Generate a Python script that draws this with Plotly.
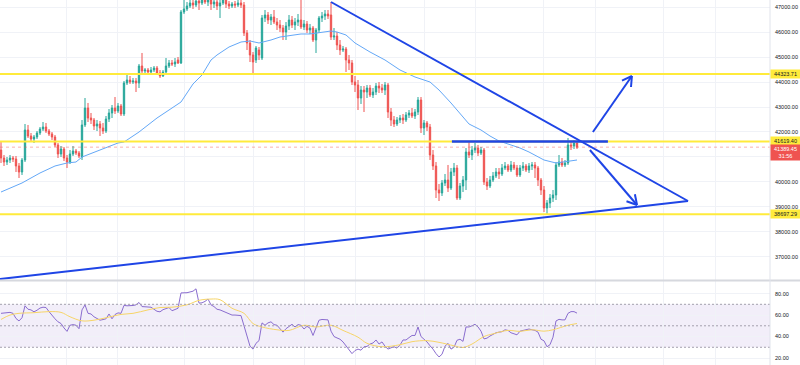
import plotly.graph_objects as go

# ---------------- data ----------------
open_ = [41276,40955,40795,40875,40955,40915,40635,40394,40875,42078,
 41837,41717,41797,41958,42118,42198,42038,41918,41797,41477,
 41116,41316,40955,40795,41116,41236,41156,40995,42279,42960,
 42559,42479,42238,42319,42158,42038,42519,42760,42960,42840,
 43040,42720,43963,44083,44003,44043,43963,44644,44444,44484,
 44404,44484,44564,44364,44243,44404,44644,44765,44725,44885,
 44765,46810,46930,47051,47171,47091,47251,47171,47371,47211,
 47291,47131,47211,47051,47171,47331,47131,47051,47131,47091,
 47171,47091,45968,45567,45086,44885,45286,44965,46569,46690,
 46489,46609,46409,46289,46168,46008,46248,46489,46289,46409,
 46489,46208,46329,46088,46168,45687,46088,46569,46649,46730,
 46690,45807,45847,45487,45286,45326,44885,44765,44003,43883,
 43361,43682,43602,43762,43482,43602,43842,43762,43682,43883,
 42800,42479,42319,42479,42559,42479,42680,42760,42639,42800,
 43281,42158,42359,42198,41076,40635,39672,39552,39953,40073,
 39752,40394,40554,39351,39832,40073,41196,41076,41276,41356,
 41156,41276,39993,39832,40073,40233,40394,40314,40554,40635,
 40474,40675,40554,40274,40554,40635,40474,40635,40675,40554,
 40073,39672,38950,39151,39351,39472,40675,40795,40675,40755,
 41477,41436,41557]

high = [41597,41076,40995,41076,41035,41035,40755,40955,42319,42279,
 41958,41878,42038,42198,42399,42359,42118,41998,41878,41557,
 41436,41396,41076,41276,41436,41316,41236,42479,43361,43161,
 42760,42559,42479,42439,42359,42639,42920,43081,43401,43161,
 43121,44043,44284,44243,44163,44163,44725,45166,44564,44564,
 44604,44644,44644,44484,44484,44965,44885,44885,44965,45005,
 46890,47291,47211,47411,47492,47532,47451,47612,47692,47492,
 47411,47371,47331,47371,47532,47451,47251,47211,47251,47291,
 47371,47211,46088,45687,45206,45446,45406,46690,46890,46810,
 46730,46890,46569,46489,46289,46409,46690,46649,46569,46730,
 47291,46489,46449,46329,46248,46168,46649,46810,46890,46890,
 47211,46168,46008,45687,45446,45406,45086,44885,44243,44083,
 43842,43842,43883,43883,43762,43963,44003,43923,44003,43963,
 42960,42639,42599,42680,42720,42800,42880,42960,42920,43401,
 43401,42479,42439,42319,41276,40795,39913,40073,40314,40675,
 40554,40755,40675,39953,40233,41356,41597,41436,41557,41477,
 41396,41356,40153,40233,40394,40554,40554,40715,40795,40715,
 40835,40795,40675,40675,40795,40715,40755,40795,40795,40635,
 40153,39832,39271,39512,39672,40795,41076,40955,40875,41757,
 41637,41677,41619.40]

low = [40755,40635,40675,40755,40795,40394,40153,40274,40795,41757,
 41637,41557,41717,41878,42038,41958,41837,41677,41396,40955,
 40995,40835,40554,40715,41035,41076,40955,40875,42198,42399,
 42319,42078,42038,41837,41918,41958,42399,42559,42720,42760,
 42639,42639,43883,43923,43923,43602,43762,44364,44324,44284,
 44324,44404,44284,44163,44203,44364,44564,44644,44604,44725,
 44725,46730,46850,46970,46930,47010,46890,47091,47131,47051,
 46890,46970,46890,46569,47091,46970,46930,46970,46970,47010,
 46970,45847,45286,44805,44284,44765,44885,44885,46409,46329,
 46289,46329,46088,46008,45687,45687,46088,46168,46088,46248,
 46128,46088,45968,45928,45607,45166,45968,46409,46489,46529,
 45687,45687,45286,45086,45206,44404,44484,43883,43602,42880,
 43121,42800,43361,43401,43361,43482,43562,43562,43482,42559,
 42238,42198,42238,42359,42319,42399,42559,42559,42519,42680,
 41958,41878,42038,40875,40474,39351,39231,39432,39832,39592,
 39672,40233,39271,39271,39592,39672,40955,40875,41156,41035,
 41076,39873,39672,39752,39993,40153,40113,40233,40474,40394,
 40394,40474,40193,40193,40434,40394,40354,40474,40153,39832,
 39472,38790,38697.29,38950,39191,39271,40594,40594,40594,40675,
 41276,41316,41316]

close = [40955,40795,40875,40955,40915,40635,40394,40875,42078,41837,
 41717,41797,41958,42118,42198,42038,41918,41797,41477,41116,
 41316,40955,40795,41116,41236,41156,41035,42279,42960,42559,
 42479,42238,42319,42158,42038,42519,42760,42960,42840,43040,
 42720,43963,44083,44003,44043,43963,44644,44444,44484,44404,
 44484,44564,44364,44243,44404,44644,44765,44725,44805,44765,
 46810,46930,47051,47171,47091,47251,47171,47371,47211,47291,
 47131,47211,47051,47171,47331,47131,47051,47131,47091,47171,
 47091,45968,45567,45086,44805,45366,45086,46569,46690,46489,
 46609,46409,46289,46168,46008,46248,46489,46289,46409,46489,
 46208,46329,46088,46168,45687,46088,46569,46649,46730,46649,
 45807,45847,45487,45286,45326,44885,44765,44003,43883,43361,
 43682,43602,43762,43482,43602,43842,43762,43682,43883,42800,
 42479,42319,42479,42559,42479,42680,42760,42639,42800,43281,
 42158,42359,42198,41076,40635,39672,39552,39953,40073,39752,
 40394,40554,39351,39832,40073,41196,41076,41276,41356,41156,
 41276,39993,39832,40073,40233,40394,40314,40554,40635,40474,
 40675,40554,40274,40554,40635,40474,40635,40675,40554,40073,
 39672,38950,39151,39351,39472,40675,40795,40675,40755,41477,
 41436,41557,41389.45]

ma_idx = [0,7,13,18,22,25,27,33,39,41,46,52,60,64,67,70,72,76,80,83,86,90,93,100,
          103,110,112,115,118,123,128,133,138,143,146,150,153,156,160,163,166,170,
          173,176,181,185,188,192]
ma_val = [39592,39953,40354,40635,40755,40795,40995,41276,41557,41597,41998,42559,
          43201,43923,44284,44885,45086,45406,45607,45647,45567,45687,45807,45928,
          45928,46048,46008,45888,45567,45206,44885,44484,44203,44003,43682,43161,
          42760,42319,42078,41837,41637,41477,41356,41196,40875,40755,40795,40875]

rsi = [61.6,62.0,62.3,62.5,61.6,56.8,54.5,57.5,68.6,65.4,
 64.8,63.0,64.5,66.5,67.3,67.0,63.2,59.5,56.5,53.7,
 52.1,48.0,44.8,50.5,51.1,50.5,47.3,64.8,69.5,61.6,
 61.0,58.4,56.5,55.2,55.8,56.5,61.0,56.5,60.5,62.0,
 61.6,69.0,68.6,68.6,68.9,69.5,71.7,67.9,67.9,67.9,
 67.3,65.4,63.5,63.0,65.0,66.0,67.0,64.0,65.5,66.3,
 80.6,80.6,80.8,81.5,82.2,84.4,71.1,71.4,72.7,74.9,
 69.5,67.9,65.4,64.8,63.5,62.5,61.6,60.0,60.0,60.0,
 59.5,50.0,40.0,31.0,28.3,33.7,36.2,52.7,50.5,52.7,
 53.7,51.1,50.5,47.0,44.1,47.3,49.5,51.4,48.9,51.1,
 50.5,47.0,49.5,47.8,41.0,48.9,55.2,55.9,55.9,55.5,
 45.0,40.0,38.7,37.5,35.0,31.4,28.0,24.1,27.0,28.3,
 27.3,30.5,30.8,33.0,34.0,36.8,33.0,35.0,31.0,28.3,
 29.5,30.5,29.2,32.0,36.8,36.8,39.0,41.0,41.0,48.9,
 40.0,37.5,35.0,31.4,28.3,24.1,21.0,23.5,31.0,33.7,
 28.3,30.0,36.5,37.5,35.5,48.9,48.9,50.0,51.4,49.0,
 45.0,37.8,38.5,40.5,42.0,43.5,44.1,44.5,46.3,45.7,
 43.5,42.5,41.6,45.0,45.7,46.5,47.0,46.3,45.7,44.1,
 37.5,36.0,30.5,32.4,39.4,54.5,56.0,55.5,55.5,61.6,
 63.2,63.2,61.8]

rsi_ma_idx = [0,3,6,11,16,20,23,27,31,35,40,44,49,53,57,62,66,70,73,77,81,84,87,92,96,
              101,105,110,114,119,122,127,133,137,142,146,151,154,157,161,164,169,173,
              177,181,184,189,192]
rsi_ma_val = [55.9,60.0,61.6,62.2,63.2,62.5,58.4,54.6,55.2,57.5,60.6,61.6,64.8,67.0,67.3,
              69.5,73.7,74.9,74.3,66.3,61.6,52.1,48.9,46.3,45.7,50.5,48.9,50.5,45.7,39.4,
              33.7,30.5,32.4,35.2,36.2,34.6,31.4,29.8,33.0,40.0,42.5,45.7,44.8,46.3,45.0,
              46.3,50.5,52.1]

price_ticks = [37000,38000,39000,40000,41000,42000,43000,44000,45000,46000,47000]
rsi_ticks = [20,40,60,80]
grid_idx = [21.67,38.67,61.33,84,101.33,118.33,141,158,180.67,198,220.67,238]

levels = [44323.71, 41619.40, 38697.29]
last_price = 41389.45
countdown = "31:56"

# drawings (time index, price)
desc_line = [(110, 47211), (229, 39231)]
asc_line = [(-0.33, 36103), (229, 39231)]
neck_line = [(150.3, 41619.40), (202.3, 41619.40)]
up_arrow = [(197.3, 41998), (210.3, 44243)]
up_head = [(207.0, 44055), (210.0, 43802)]
down_arrow = [(196.3, 41276), (212.0, 39071)]
down_head = [(211.3, 39504), (208.5, 39219)]

# ---------------- figure ----------------
UP = "#26a69a"
DN = "#ef5350"
BLUE = "#1f45e6"
YEL = "#ffeb3b"
FONT = "Liberation Sans"
N = len(close)
idx = list(range(N))
xr = [-1/3, 256 + 1/3]

# tick label hidden behind the last-price badge (as in the reference)
price_ticktext = ["" if abs(v - last_price) < 500 else f"{v:.2f}" for v in price_ticks]

fig = go.Figure()
fig.add_trace(go.Candlestick(
    x=idx, open=open_, high=high, low=low, close=close,
    increasing=dict(line=dict(color=UP, width=1), fillcolor=UP),
    decreasing=dict(line=dict(color=DN, width=1), fillcolor=DN),
    whiskerwidth=0, xaxis="x", yaxis="y", hoverinfo="skip"))
fig.add_trace(go.Scatter(x=ma_idx, y=ma_val, mode="lines",
                         line=dict(color="#64a8f7", width=1), xaxis="x", yaxis="y", hoverinfo="skip"))
fig.add_trace(go.Scatter(x=idx, y=rsi, mode="lines",
                         line=dict(color="#8a6dcf", width=1), xaxis="x2", yaxis="y2", hoverinfo="skip"))
fig.add_trace(go.Scatter(x=rsi_ma_idx, y=rsi_ma_val, mode="lines", line_shape="spline",
                         line=dict(color="#f7d568", width=1), xaxis="x2", yaxis="y2", hoverinfo="skip"))

shapes = []
# RSI band
shapes.append(dict(type="rect", xref="x2 domain", yref="y2", x0=0, x1=1, y0=30, y1=70,
                   fillcolor="rgba(126,87,194,0.10)", line=dict(width=0), layer="below"))
for lv in (70, 50, 30):
    shapes.append(dict(type="line", xref="x2 domain", yref="y2", x0=0, x1=1, y0=lv, y1=lv,
                       line=dict(color="#a3a1ad", width=1, dash="2px,2px")))
# yellow levels
for lv in levels:
    shapes.append(dict(type="line", xref="x domain", yref="y", x0=0, x1=1, y0=lv, y1=lv,
                       line=dict(color=YEL, width=2)))
# last-price line
shapes.append(dict(type="line", xref="x domain", yref="y", x0=0, x1=1, y0=last_price, y1=last_price,
                   line=dict(color="rgba(239,83,80,0.45)", width=1, dash="dot")))
# trend drawings
for seg in (desc_line, asc_line, up_arrow, down_arrow):
    (xa, ya), (xb, yb) = seg
    shapes.append(dict(type="line", xref="x", yref="y", x0=xa, y0=ya, x1=xb, y1=yb,
                       line=dict(color=BLUE, width=2)))
(xa, ya), (xb, yb) = neck_line
shapes.append(dict(type="line", xref="x", yref="y", x0=xa, y0=ya, x1=xb, y1=yb,
                   line=dict(color=BLUE, width=2.5)))
for tip, head in ((up_arrow[1], up_head), (down_arrow[1], down_head)):
    for hx, hy in head:
        shapes.append(dict(type="line", xref="x", yref="y", x0=tip[0], y0=tip[1], x1=hx, y1=hy,
                           line=dict(color=BLUE, width=2)))
# panel separators
shapes.append(dict(type="line", xref="paper", yref="paper", x0=0, x1=800/770, y0=84.6/365, y1=84.6/365,
                   line=dict(color="#d6d8de", width=2)))
shapes.append(dict(type="line", xref="paper", yref="paper", x0=1, x1=1, y0=0, y1=1,
                   line=dict(color="#e0e3eb", width=1)))

annotations = []
for lv in levels:
    annotations.append(dict(xref="paper", yref="y", x=1, y=lv, xanchor="left", yanchor="middle",
                            text=f"{lv:.2f}", showarrow=False, bgcolor=YEL, borderpad=1,
                            width=27, font=dict(family=FONT, size=5.5, color="#131722")))
annotations.append(dict(xref="paper", yref="y", x=1, y=last_price, xanchor="left", yanchor="top",
                        yshift=3.5, text=f"{last_price:.2f}<br>{countdown}", showarrow=False,
                        bgcolor=DN, borderpad=1, width=27,
                        font=dict(family=FONT, size=5.5, color="white")))

axis_common = dict(showline=False, zeroline=False, fixedrange=True, automargin=False)
fig.update_layout(
    width=800, height=365, margin=dict(l=0, r=30, t=0, b=0, pad=0, autoexpand=False),
    paper_bgcolor="white", plot_bgcolor="white", showlegend=False,
    font=dict(family=FONT, size=5.5, color="#131722"),
    xaxis=dict(domain=[0, 1], anchor="y", range=xr, tickvals=grid_idx, showticklabels=False,
               showgrid=True, gridcolor="#f0f2f7", gridwidth=1, ticks="",
               rangeslider=dict(visible=False), **axis_common),
    yaxis=dict(domain=[85/365, 1], anchor="x", range=[47291 - 40.1 * 280, 47291], side="right",
               tickvals=price_ticks, ticktext=price_ticktext, showgrid=True, gridcolor="#f0f2f7",
               ticks="", ticklabelstandoff=4,
               tickfont=dict(family=FONT, size=5.5, color="#131722"), **axis_common),
    xaxis2=dict(domain=[0, 1], anchor="y2", range=xr, tickvals=grid_idx, showticklabels=False,
                showgrid=True, gridcolor="#f0f2f7", ticks="", **axis_common),
    yaxis2=dict(domain=[0, 84/365], anchor="x2", range=[13.5, 91.7], side="right",
                tickvals=rsi_ticks, tickformat=".2f", showgrid=True, gridcolor="#f0f2f7",
                ticks="", ticklabelstandoff=4,
                tickfont=dict(family=FONT, size=5.5, color="#131722"), **axis_common),
    shapes=shapes, annotations=annotations, boxgap=0.35,
)

fig.write_html("out.html", config={"displayModeBar": False},
               post_script="document.body.style.margin='0';document.body.style.overflow='hidden';")
